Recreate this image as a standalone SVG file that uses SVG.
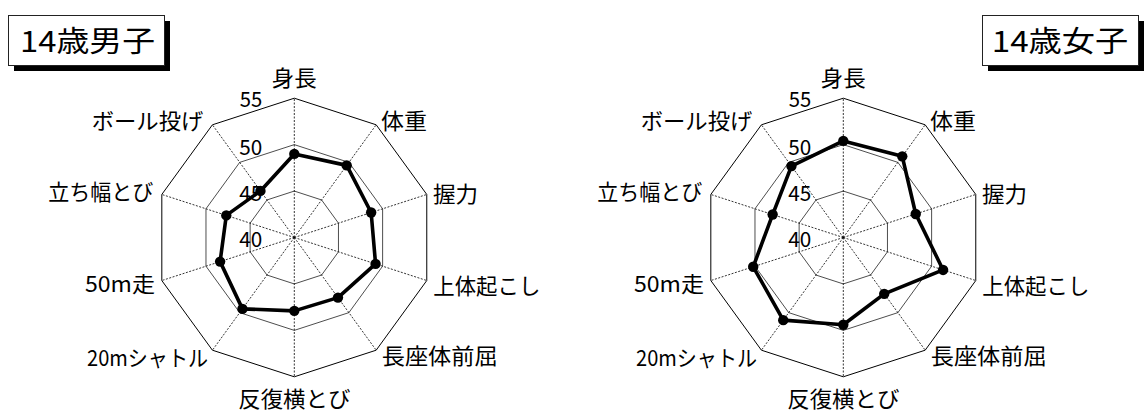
<svg xmlns="http://www.w3.org/2000/svg" width="1145" height="416" viewBox="0 0 1145 416">
<defs>
<style>
text{font-family:"Noto Sans CJK JP","Noto Sans",sans-serif;fill:#000}
.lbl{font-size:22px}
.num{font-size:21px;text-anchor:end}
.ttl{font-size:29px}
.outer{fill:none;stroke:#000;stroke-width:1}
.ring{fill:none;stroke:#000;stroke-width:0.7}
.spoke{stroke:#000;stroke-width:0.8;stroke-dasharray:2 1.5}
.data{fill:none;stroke:#000;stroke-width:3.6;stroke-linejoin:round}
.box{fill:#fff;stroke:#222;stroke-width:1}
</style>
<g id="grid">
<polygon class="outer" points="0,-139.3 81.88,-112.7 132.48,-43.05 132.48,43.05 81.88,112.7 0,139.3 -81.88,112.7 -132.48,43.05 -132.48,-43.05 -81.88,-112.7"/>
<polygon class="ring" points="0,-92.87 54.59,-75.13 88.32,-28.7 88.32,28.7 54.59,75.13 0,92.87 -54.59,75.13 -88.32,28.7 -88.32,-28.7 -54.59,-75.13"/>
<polygon class="ring" points="0,-46.43 27.29,-37.56 44.16,-14.35 44.16,14.35 27.29,37.56 0,46.43 -27.29,37.56 -44.16,14.35 -44.16,-14.35 -27.29,-37.56"/>
<path class="spoke" d="M0,0L0,-139.3M0,0L81.88,-112.7M0,0L132.48,-43.05M0,0L132.48,43.05M0,0L81.88,112.7M0,0L0,139.3M0,0L-81.88,112.7M0,0L-132.48,43.05M0,0L-132.48,-43.05M0,0L-81.88,-112.7"/>
<text class="num" x="-32" y="-130.5" textLength="22.5" lengthAdjust="spacingAndGlyphs">55</text>
<text class="num" x="-32" y="-82.5" textLength="23" lengthAdjust="spacingAndGlyphs">50</text>
<text class="num" x="-32" y="-37" textLength="23" lengthAdjust="spacingAndGlyphs">45</text>
<text class="num" x="-32" y="9" textLength="23" lengthAdjust="spacingAndGlyphs">40</text>
<text class="lbl" x="0" y="-152" text-anchor="middle" textLength="45" lengthAdjust="spacingAndGlyphs">身長</text>
<text class="lbl" x="86.7" y="-109" textLength="46" lengthAdjust="spacingAndGlyphs">体重</text>
<text class="lbl" x="138.7" y="-35.7" textLength="45" lengthAdjust="spacingAndGlyphs">握力</text>
<text class="lbl" x="139" y="56" textLength="107" lengthAdjust="spacingAndGlyphs">上体起こし</text>
<text class="lbl" x="87.4" y="126" textLength="116" lengthAdjust="spacingAndGlyphs">長座体前屈</text>
<text class="lbl" x="0" y="169" text-anchor="middle" textLength="112" lengthAdjust="spacingAndGlyphs">反復横とび</text>
<text class="lbl" x="-207.3" y="128" textLength="121" lengthAdjust="spacingAndGlyphs">20mシャトル</text>
<text class="lbl" x="-209.3" y="54" textLength="70" lengthAdjust="spacingAndGlyphs">50m走</text>
<text class="lbl" x="-246" y="-37.3" textLength="105" lengthAdjust="spacingAndGlyphs">立ち幅とび</text>
<text class="lbl" x="-202.6" y="-109" textLength="111.6" lengthAdjust="spacingAndGlyphs">ボール投げ</text>
</g>
</defs>

<g id="title-male">
<rect x="14" y="21" width="156" height="50" fill="#000"/>
<rect class="box" x="8.5" y="15.5" width="156" height="50"/>
<text class="ttl" x="20" y="52" textLength="135" lengthAdjust="spacingAndGlyphs">14歳男子</text>
</g>

<g id="title-female">
<rect x="988" y="21" width="156" height="50" fill="#000"/>
<rect class="box" x="982.5" y="15.5" width="156" height="50"/>
<text class="ttl" x="991.7" y="52" textLength="136.6" lengthAdjust="spacingAndGlyphs">14歳女子</text>
</g>

<g id="chart-male" transform="translate(294.3,237.5)">
<use href="#grid"/>
<g id="series-male">
<polygon class="data" points="0,-83.58 52.4,-72.12 76.85,-24.97 81.26,26.4 43.67,60.11 0,73.37 -51.86,71.38 -74.19,24.11 -68.01,-22.1 -33.84,-46.58"/>
<g fill="#000">
<circle cx="0" cy="-83.58" r="5.2"/>
<circle cx="52.4" cy="-72.12" r="5.2"/>
<circle cx="76.85" cy="-24.97" r="5.2"/>
<circle cx="81.26" cy="26.4" r="5.2"/>
<circle cx="43.67" cy="60.11" r="5.2"/>
<circle cx="0" cy="73.37" r="5.2"/>
<circle cx="-51.86" cy="71.38" r="5.2"/>
<circle cx="-74.19" cy="24.11" r="5.2"/>
<circle cx="-68.01" cy="-22.1" r="5.2"/>
<circle cx="-33.84" cy="-46.58" r="5.2"/>
</g>
</g>
</g>

<g id="chart-female" transform="translate(843.3,237.5)">
<use href="#grid"/>
<g id="series-female">
<polygon class="data" points="0,-96.58 58.96,-81.15 72.42,-23.53 99.8,32.43 40.94,56.35 0,87.3 -60.05,82.65 -90.09,29.27 -70.66,-22.96 -51.86,-71.38"/>
<g fill="#000">
<circle cx="0" cy="-96.58" r="5.2"/>
<circle cx="58.96" cy="-81.15" r="5.2"/>
<circle cx="72.42" cy="-23.53" r="5.2"/>
<circle cx="99.8" cy="32.43" r="5.2"/>
<circle cx="40.94" cy="56.35" r="5.2"/>
<circle cx="0" cy="87.3" r="5.2"/>
<circle cx="-60.05" cy="82.65" r="5.2"/>
<circle cx="-90.09" cy="29.27" r="5.2"/>
<circle cx="-70.66" cy="-22.96" r="5.2"/>
<circle cx="-51.86" cy="-71.38" r="5.2"/>
</g>
</g>
</g>
</svg>
